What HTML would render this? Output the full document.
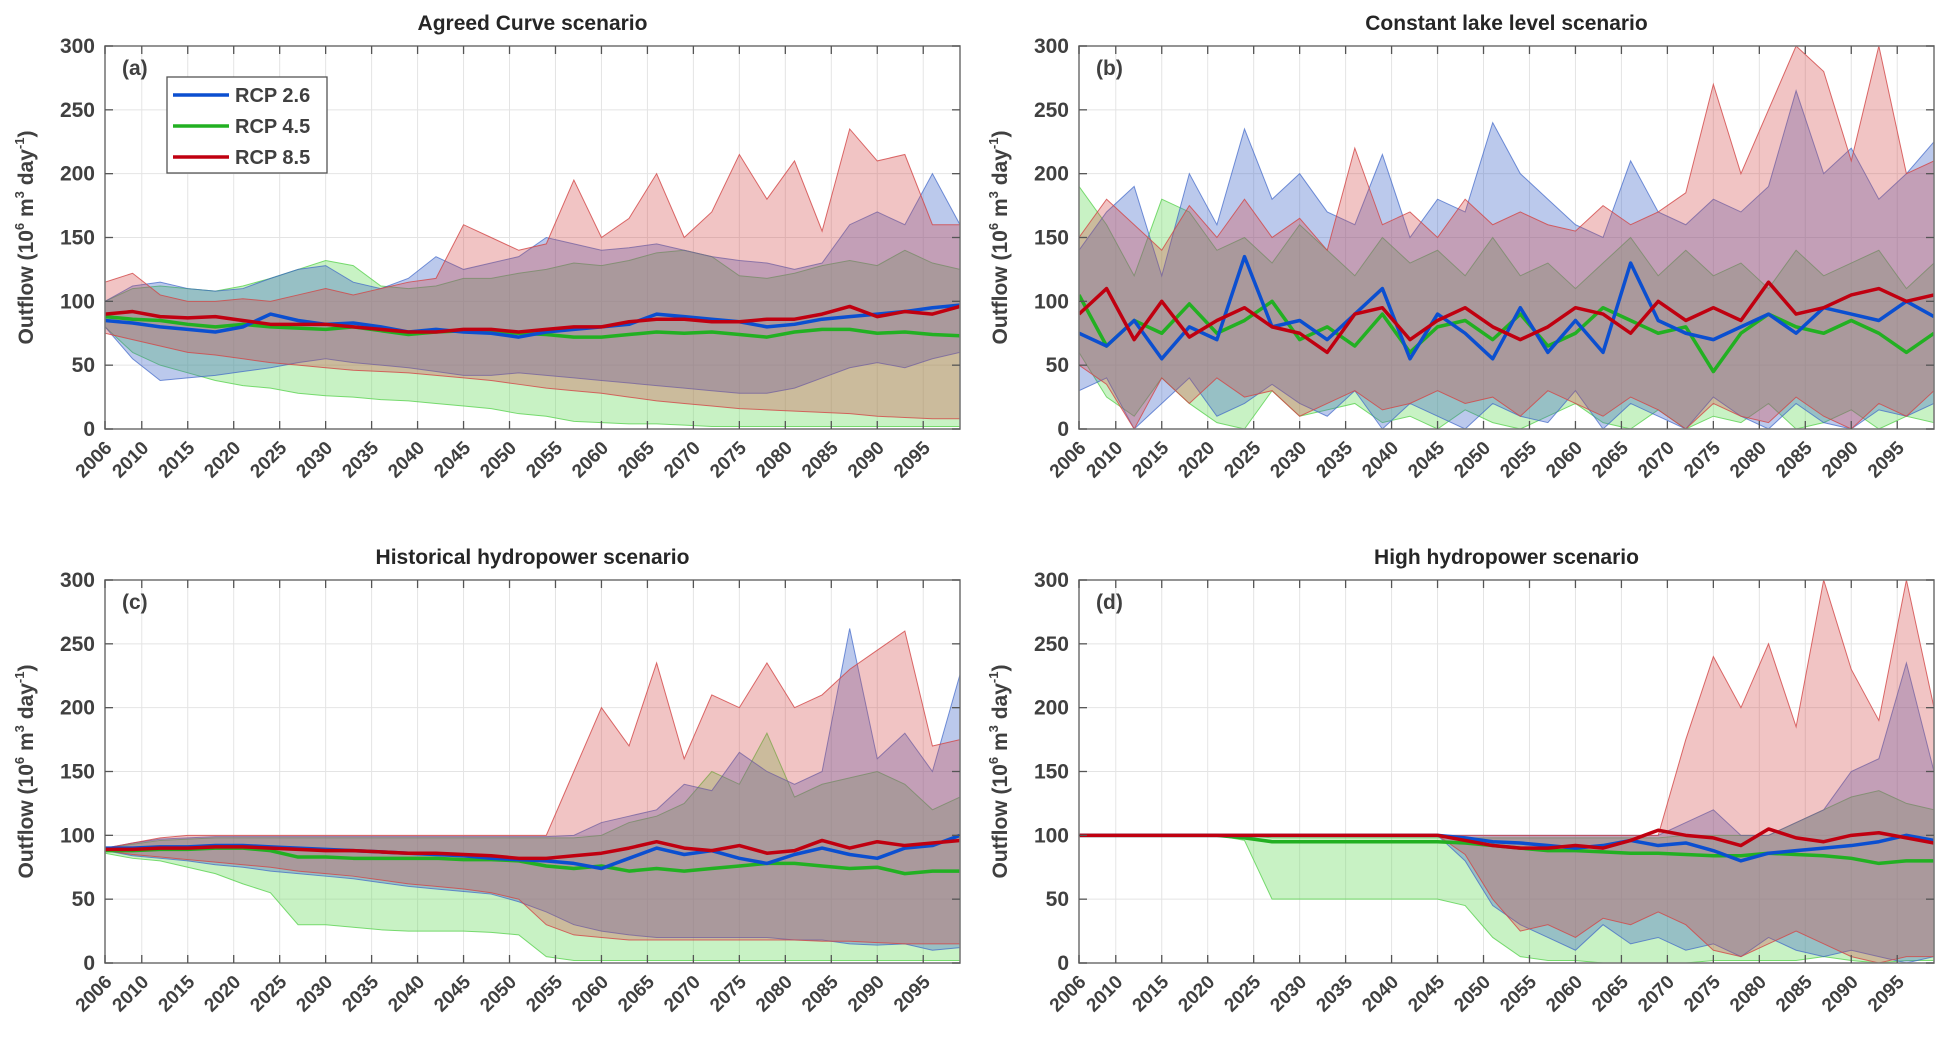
<!DOCTYPE html>
<html><head><meta charset="utf-8"><style>
body{margin:0;background:#fff}
svg text{font-family:"Liberation Sans",Arial,sans-serif;font-weight:bold;fill:#262626}
</style></head><body>
<svg id="chart" width="1956" height="1044" viewBox="0 0 1956 1044" xmlns="http://www.w3.org/2000/svg"></svg>
<script>
const years=[2006,2009,2012,2015,2018,2021,2024,2027,2030,2033,2036,2039,2042,2045,2048,2051,2054,2057,2060,2063,2066,2069,2072,2075,2078,2081,2084,2087,2090,2093,2096,2099];
const xTicks=[2006,2010,2015,2020,2025,2030,2035,2040,2045,2050,2055,2060,2065,2070,2075,2080,2085,2090,2095];
const yTicks=[0,50,100,150,200,250,300];
// Panel a
const aBlueMed=[85,83,80,78,76,80,90,85,82,83,80,76,78,76,75,72,76,78,80,82,90,88,86,84,80,82,86,88,90,92,95,97];
const aGreenMed=[88,86,85,82,80,82,80,79,78,80,77,74,76,77,76,75,74,72,72,74,76,75,76,74,72,76,78,78,75,76,74,73];
const aRedMed=[90,92,88,87,88,85,82,82,82,80,78,76,76,78,78,76,78,80,80,84,86,86,84,84,86,86,90,96,88,92,90,96];
const aGreenLo=[80,60,50,44,38,34,32,28,26,25,23,22,20,18,16,12,10,6,5,4,4,3,2,2,2,2,2,2,2,2,2,2];
const aGreenHi=[100,110,112,110,108,112,118,125,132,128,112,110,112,118,118,122,125,130,128,132,138,140,135,120,118,122,128,132,128,140,130,125];
const aBlueLo=[80,55,38,40,42,45,48,52,55,52,50,48,45,42,42,44,42,40,38,36,34,32,30,28,28,32,40,48,52,48,55,60];
const aBlueHi=[100,112,115,110,108,110,118,125,128,115,110,118,135,125,130,135,150,145,140,142,145,140,135,132,130,125,130,160,170,160,200,160];
const aRedLo=[75,70,65,60,58,55,52,50,48,46,45,44,42,40,38,35,32,30,28,25,22,20,18,16,15,14,13,12,10,9,8,8];
const aRedHi=[115,122,105,100,100,102,100,105,110,105,110,115,118,160,150,140,145,195,150,165,200,150,170,215,180,210,155,235,210,215,160,160];
// Panel b
const bBlueMed=[75,65,85,55,80,70,135,80,85,70,90,110,55,90,75,55,95,60,85,60,130,85,75,70,80,90,75,95,90,85,100,88];
const bGreenMed=[105,65,85,75,98,75,85,100,70,80,65,90,60,80,85,70,90,65,75,95,85,75,80,45,75,90,80,75,85,75,60,75];
const bRedMed=[90,110,70,100,72,85,95,80,75,60,90,95,70,85,95,80,70,80,95,90,75,100,85,95,85,115,90,95,105,110,100,105];
const bGreenLo=[60,25,10,40,20,5,0,30,10,15,20,5,10,0,15,5,0,10,20,5,0,15,0,10,5,20,0,5,15,0,10,5];
const bGreenHi=[190,160,120,180,170,140,150,130,160,140,120,150,130,140,120,150,120,130,110,130,150,120,140,120,130,110,140,120,130,140,110,130];
const bBlueLo=[30,40,0,20,40,10,20,35,20,10,30,0,20,10,0,20,10,5,30,0,20,10,0,25,10,0,20,5,0,15,10,20];
const bBlueHi=[140,170,190,120,200,160,235,180,200,170,160,215,150,180,170,240,200,180,160,150,210,170,160,180,170,190,265,200,220,180,200,225];
const bRedLo=[50,35,0,40,20,40,25,30,10,20,30,15,20,30,20,25,10,30,20,10,25,15,0,20,10,5,25,10,0,20,10,30];
const bRedHi=[150,180,160,140,175,150,180,150,165,140,220,160,170,150,180,160,170,160,155,175,160,170,185,270,200,250,300,280,210,300,200,210];
// Panel c
const cBlueMed=[90,90,91,91,92,92,91,90,89,88,87,86,85,84,82,81,80,78,74,82,90,85,88,82,78,85,90,85,82,90,92,100];
const cGreenMed=[88,88,89,89,90,90,88,83,83,82,82,82,82,81,81,80,76,74,76,72,74,72,74,76,78,78,76,74,75,70,72,72];
const cRedMed=[89,89,90,90,91,91,90,89,88,88,87,86,86,85,84,82,82,84,86,90,95,90,88,92,86,88,96,90,95,92,94,96];
const cGreenLo=[86,82,80,75,70,62,55,30,30,28,26,25,25,25,24,22,5,2,2,2,2,2,2,2,2,2,2,2,2,2,2,2];
const cGreenHi=[90,93,96,97,98,98,98,98,98,98,98,98,98,98,98,98,98,98,100,110,115,125,150,140,180,130,140,145,150,140,120,130];
const cBlueLo=[88,84,82,80,77,75,72,70,68,66,63,60,58,56,54,48,40,30,25,22,20,20,20,20,20,18,18,15,14,15,10,12];
const cBlueHi=[90,94,97,98,99,99,99,99,99,99,99,99,99,99,99,99,99,100,110,115,120,140,135,165,150,140,150,262,160,180,150,226];
const cRedLo=[88,85,83,81,79,77,75,72,70,68,65,62,60,58,55,50,30,22,20,18,18,18,18,18,18,18,17,17,16,15,15,15];
const cRedHi=[90,94,98,100,100,100,100,100,100,100,100,100,100,100,100,100,100,150,200,170,235,160,210,200,235,200,210,230,245,260,170,175];
// Panel d
const dBlueMed=[100,100,100,100,100,100,100,100,100,100,100,100,100,100,98,95,94,92,90,92,96,92,94,88,80,86,88,90,92,95,100,96];
const dGreenMed=[100,100,100,100,100,100,98,95,95,95,95,95,95,95,94,92,90,88,88,87,86,86,85,84,84,86,85,84,82,78,80,80];
const dRedMed=[100,100,100,100,100,100,100,100,100,100,100,100,100,100,96,92,90,90,92,90,96,104,100,98,92,105,98,95,100,102,98,94];
const dGreenLo=[100,100,100,100,100,100,96,50,50,50,50,50,50,50,45,20,5,2,2,0,0,0,0,2,2,2,2,5,2,0,2,2];
const dGreenHi=[100,100,100,100,100,100,100,98,98,98,98,98,98,98,98,98,98,98,98,98,98,98,100,100,100,100,110,120,130,135,125,120];
const dBlueLo=[100,100,100,100,100,100,100,100,100,100,100,100,100,100,80,45,30,20,10,30,15,20,10,15,5,20,10,5,10,5,0,5];
const dBlueHi=[100,100,100,100,100,100,100,100,100,100,100,100,100,100,100,100,100,100,100,100,100,100,110,120,100,100,110,120,150,160,235,150];
const dRedLo=[100,100,100,100,100,100,100,100,100,100,100,100,100,100,85,50,25,30,20,35,30,40,30,10,5,15,25,15,5,0,5,5];
const dRedHi=[100,100,100,100,100,100,100,100,100,100,100,100,100,100,100,100,100,100,100,100,100,100,175,240,200,250,185,300,230,190,300,200];

const NS='http://www.w3.org/2000/svg';
const svg=document.getElementById('chart');
function mk(tag,attrs,parent){const e=document.createElementNS(NS,tag);for(const k in attrs)e.setAttribute(k,attrs[k]);(parent||svg).appendChild(e);return e;}
const COL={blue:{line:'#0b4fd0',fill:'rgba(60,100,200,0.35)',edge:'rgba(60,100,200,0.7)'},
green:{line:'#22b022',fill:'rgba(110,220,100,0.38)',edge:'rgba(90,210,80,0.8)'},
red:{line:'#c00010',fill:'rgba(210,70,70,0.32)',edge:'rgba(210,70,70,0.8)'}};
const panels=[
{id:'a',title:'Agreed Curve scenario',L:105,R:960,T:46,B:429,s:{green:[aGreenLo,aGreenHi,aGreenMed],blue:[aBlueLo,aBlueHi,aBlueMed],red:[aRedLo,aRedHi,aRedMed]},legend:true},
{id:'b',title:'Constant lake level scenario',L:1079,R:1934,T:46,B:429,s:{green:[bGreenLo,bGreenHi,bGreenMed],blue:[bBlueLo,bBlueHi,bBlueMed],red:[bRedLo,bRedHi,bRedMed]}},
{id:'c',title:'Historical hydropower scenario',L:105,R:960,T:580,B:963,s:{green:[cGreenLo,cGreenHi,cGreenMed],blue:[cBlueLo,cBlueHi,cBlueMed],red:[cRedLo,cRedHi,cRedMed]}},
{id:'d',title:'High hydropower scenario',L:1079,R:1934,T:580,B:963,s:{green:[dGreenLo,dGreenHi,dGreenMed],blue:[dBlueLo,dBlueHi,dBlueMed],red:[dRedLo,dRedHi,dRedMed]}}];
panels.forEach(p=>{
  const g=mk('g',{});
  
  
  const xs=v=>p.L+(v-2006)/(2099-2006)*(p.R-p.L);
  const ys=v=>p.B-Math.min(v,300)/300*(p.B-p.T);
  const cp=mk('clipPath',{id:'clip'+p.id},g);mk('rect',{x:p.L,y:p.T,width:p.R-p.L,height:p.B-p.T},cp);
  // grid
  xTicks.forEach(t=>{const l=mk('line',{x1:xs(t),x2:xs(t),y1:p.T,y2:p.B,stroke:'#e4e4e4','stroke-width':1},g);});
  yTicks.forEach(t=>{const l=mk('line',{x1:p.L,x2:p.R,y1:ys(t),y2:ys(t),stroke:'#e4e4e4','stroke-width':1},g);});
  const dg=mk('g',{'clip-path':'url(#clip'+p.id+')'},g);
  ['green','blue','red'].forEach(k=>{
    const [lo,hi]=p.s[k];
    let d='M'+years.map((y,i)=>xs(y)+','+ys(hi[i])).join('L');
    for(let i=years.length-1;i>=0;i--)d+='L'+xs(years[i])+','+ys(lo[i]);
    const b=mk('path',{d:d+'Z',fill:COL[k].fill,stroke:COL[k].edge,'stroke-width':1},dg);
    
    
  });
  ['green','blue','red'].forEach(k=>{
    const med=p.s[k][2];
    const l=mk('polyline',{points:years.map((y,i)=>xs(y)+','+ys(med[i])).join(' '),fill:'none',stroke:COL[k].line,'stroke-width':3.5,'stroke-linejoin':'round'},dg);
    
    
  });
  // box and ticks
  const box=mk('rect',{x:p.L,y:p.T,width:p.R-p.L,height:p.B-p.T,fill:'none',stroke:'#7a7a7a','stroke-width':1.6},g);
  
  xTicks.forEach(t=>{
    mk('line',{x1:xs(t),x2:xs(t),y1:p.B,y2:p.B-8,stroke:'#555','stroke-width':1.3},g);
    mk('line',{x1:xs(t),x2:xs(t),y1:p.T,y2:p.T+8,stroke:'#555','stroke-width':1.3},g);
    const tx=mk('text',{x:xs(t)+8,y:p.B+20,'font-size':19,'text-anchor':'end',transform:'rotate(-45 '+(xs(t)+8)+' '+(p.B+20)+')',style:'fill:#404040'},g);
    tx.textContent=t;
    
  });
  yTicks.forEach(t=>{
    mk('line',{x1:p.L,x2:p.L+8,y1:ys(t),y2:ys(t),stroke:'#555','stroke-width':1.3},g);
    mk('line',{x1:p.R,x2:p.R-8,y1:ys(t),y2:ys(t),stroke:'#555','stroke-width':1.3},g);
    const tx=mk('text',{x:p.L-10,y:ys(t)+7,'font-size':21,'text-anchor':'end',style:'fill:#404040'},g);
    tx.textContent=t;
    
  });
  const ti=mk('text',{x:(p.L+p.R)/2,y:p.T-16,'font-size':21,'text-anchor':'middle'},g);
  ti.textContent=p.title;
  const pl=mk('text',{x:p.L+17,y:p.T+29,'font-size':21,style:'fill:#404040'},g);
  pl.textContent='('+p.id+')';
  const cy=(p.T+p.B)/2, cx=p.L-72;
  const yl=mk('text',{x:cx,y:cy,'font-size':21,'text-anchor':'middle',transform:'rotate(-90 '+cx+' '+cy+')',style:'fill:#404040'},g);
  yl.innerHTML='Outflow (10<tspan font-size="13" dy="-9">6</tspan><tspan dy="9"> m</tspan><tspan font-size="13" dy="-9">3</tspan><tspan dy="9"> day</tspan><tspan font-size="13" dy="-9">-1</tspan><tspan dy="9">)</tspan>';
  
  if(p.legend){
    const lg=mk('g',{},g);
    mk('rect',{x:167,y:77,width:160,height:96,fill:'#fff',stroke:'#555','stroke-width':1.3},lg);
    [['blue','RCP 2.6'],['green','RCP 4.5'],['red','RCP 8.5']].forEach((e,i)=>{
      const yy=95+i*31;
      const en=mk('g',{},lg);
      mk('line',{x1:173,x2:229,y1:yy,y2:yy,stroke:COL[e[0]].line,'stroke-width':3.5},en);
      const t=mk('text',{x:235,y:yy+7,'font-size':20,style:'fill:#404040'},en);t.textContent=e[1];
    });
  }
});
</script>
</body></html>
